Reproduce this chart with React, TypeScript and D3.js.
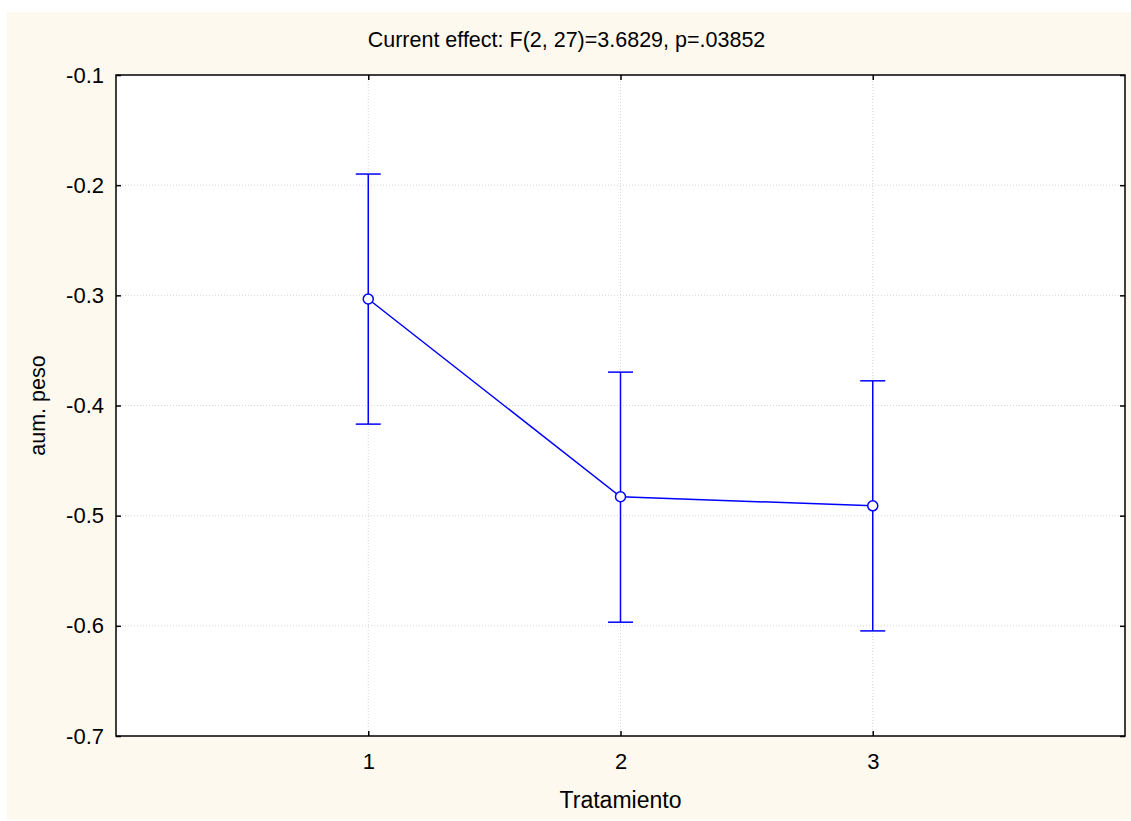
import React, { useEffect, useRef } from 'react';
import * as d3 from 'd3';

// Tratamiento levels, means and 95% CI bounds of "aum. peso"
const categories = [1, 2, 3];
const means = [-0.3033, -0.4828, -0.4911];
const upper = [-0.1899, -0.3697, -0.3776];
const lower = [-0.4169, -0.5967, -0.6046];

const yTicks = [-0.7, -0.6, -0.5, -0.4, -0.3, -0.2, -0.1];
const xDomain = [0, 4];

const title = 'Current effect: F(2, 27)=3.6829, p=.03852';
const xLabel = 'Tratamiento';
const yLabel = 'aum. peso';

const WIDTH = 1131;
const HEIGHT = 821;
const FONT = '"Liberation Sans", Arial, sans-serif';

const EffectPlot: React.FC = () => {
  const svgRef = useRef<SVGSVGElement>(null);

  useEffect(() => {
    if (!svgRef.current) return;

    const svg = d3.select(svgRef.current);
    svg.selectAll('*').remove();
    svg.attr('width', WIDTH).attr('height', HEIGHT);

    const left = 116;
    const right = 1125;
    const top = 75;
    const bottom = 736;

    const x = d3.scaleLinear().domain(xDomain).range([left, right]);
    const y = d3.scaleLinear().domain([-0.7, -0.1]).range([bottom, top]);

    // cream page background
    svg
      .append('rect')
      .attr('x', 7)
      .attr('y', 12)
      .attr('width', WIDTH - 7)
      .attr('height', 808)
      .attr('fill', '#fef9ee');

    // plot area
    svg
      .append('rect')
      .attr('x', left)
      .attr('y', top)
      .attr('width', right - left)
      .attr('height', bottom - top)
      .attr('fill', '#ffffff');

    // dotted grid
    const grid = svg.append('g').attr('stroke', '#d6d6d6').attr('stroke-width', 1).attr('stroke-dasharray', '1,2');
    grid
      .selectAll('line.h')
      .data(yTicks.slice(1, -1))
      .enter()
      .append('line')
      .attr('class', 'h')
      .attr('x1', left)
      .attr('x2', right)
      .attr('y1', (d) => y(d))
      .attr('y2', (d) => y(d));
    grid
      .selectAll('line.v')
      .data(categories)
      .enter()
      .append('line')
      .attr('class', 'v')
      .attr('x1', (d) => x(d))
      .attr('x2', (d) => x(d))
      .attr('y1', top)
      .attr('y2', bottom);

    // axes (ticks point inward)
    const yAxis = d3
      .axisLeft(y)
      .tickValues(yTicks)
      .tickFormat((d) => (d as number).toFixed(1))
      .tickSizeInner(-5)
      .tickSizeOuter(0)
      .tickPadding(12);
    const gy = svg.append('g').attr('transform', `translate(${left},0)`).call(yAxis);

    const xAxis = d3
      .axisBottom(x)
      .tickValues(categories)
      .tickFormat((d) => String(d))
      .tickSizeInner(-5)
      .tickSizeOuter(0)
      .tickPadding(17);
    const gx = svg.append('g').attr('transform', `translate(0,${bottom})`).call(xAxis);

    const gr = svg
      .append('g')
      .attr('transform', `translate(${right},0)`)
      .call(d3.axisRight(y).tickValues(yTicks).tickFormat(() => '').tickSizeInner(-5).tickSizeOuter(0));
    const gt = svg
      .append('g')
      .attr('transform', `translate(0,${top})`)
      .call(d3.axisTop(x).tickValues(categories).tickFormat(() => '').tickSizeInner(-5).tickSizeOuter(0));

    [gy, gx, gr, gt].forEach((g) => {
      g.select('.domain').remove();
      g.selectAll('line').attr('stroke', '#000').attr('stroke-width', 1.5);
      g.selectAll('text').attr('font-family', FONT).attr('font-size', 22).attr('fill', '#000');
    });

    // frame
    svg
      .append('rect')
      .attr('x', left)
      .attr('y', top)
      .attr('width', right - left)
      .attr('height', bottom - top)
      .attr('fill', 'none')
      .attr('stroke', '#000')
      .attr('stroke-width', 1.5);

    // error bars
    const blue = '#0000ff';
    const cap = 12.5;
    const bars = svg.append('g').attr('stroke', blue).attr('stroke-width', 1.5).attr('fill', 'none');
    categories.forEach((c, i) => {
      bars.append('line').attr('x1', x(c)).attr('x2', x(c)).attr('y1', y(upper[i])).attr('y2', y(lower[i]));
      bars.append('line').attr('x1', x(c) - cap).attr('x2', x(c) + cap).attr('y1', y(upper[i])).attr('y2', y(upper[i]));
      bars.append('line').attr('x1', x(c) - cap).attr('x2', x(c) + cap).attr('y1', y(lower[i])).attr('y2', y(lower[i]));
    });

    // mean line
    const line = d3
      .line<number>()
      .x((_, i) => x(categories[i]))
      .y((d) => y(d));
    svg.append('path').datum(means).attr('d', line).attr('fill', 'none').attr('stroke', blue).attr('stroke-width', 1.5);

    svg
      .append('g')
      .selectAll('circle')
      .data(means)
      .enter()
      .append('circle')
      .attr('cx', (_, i) => x(categories[i]))
      .attr('cy', (d) => y(d))
      .attr('r', 5)
      .attr('fill', '#fff')
      .attr('stroke', blue)
      .attr('stroke-width', 1.5);

    // titles
    svg
      .append('text')
      .attr('x', (left + right) / 2 - 54)
      .attr('y', 47)
      .attr('text-anchor', 'middle')
      .attr('font-family', FONT)
      .attr('font-size', 21.5)
      .text(title);

    svg
      .append('text')
      .attr('x', x(2))
      .attr('y', 808)
      .attr('text-anchor', 'middle')
      .attr('font-family', FONT)
      .attr('font-size', 23)
      .text(xLabel);

    svg
      .append('text')
      .attr('transform', `translate(45,${(top + bottom) / 2}) rotate(-90)`)
      .attr('text-anchor', 'middle')
      .attr('font-family', FONT)
      .attr('font-size', 21.5)
      .text(yLabel);
  }, []);

  return <svg ref={svgRef} style={{ display: 'block' }}></svg>;
};

export default function App() {
  return (
    <div style={{ position: 'absolute', left: 0, top: 0 }}>
      <EffectPlot />
    </div>
  );
}
